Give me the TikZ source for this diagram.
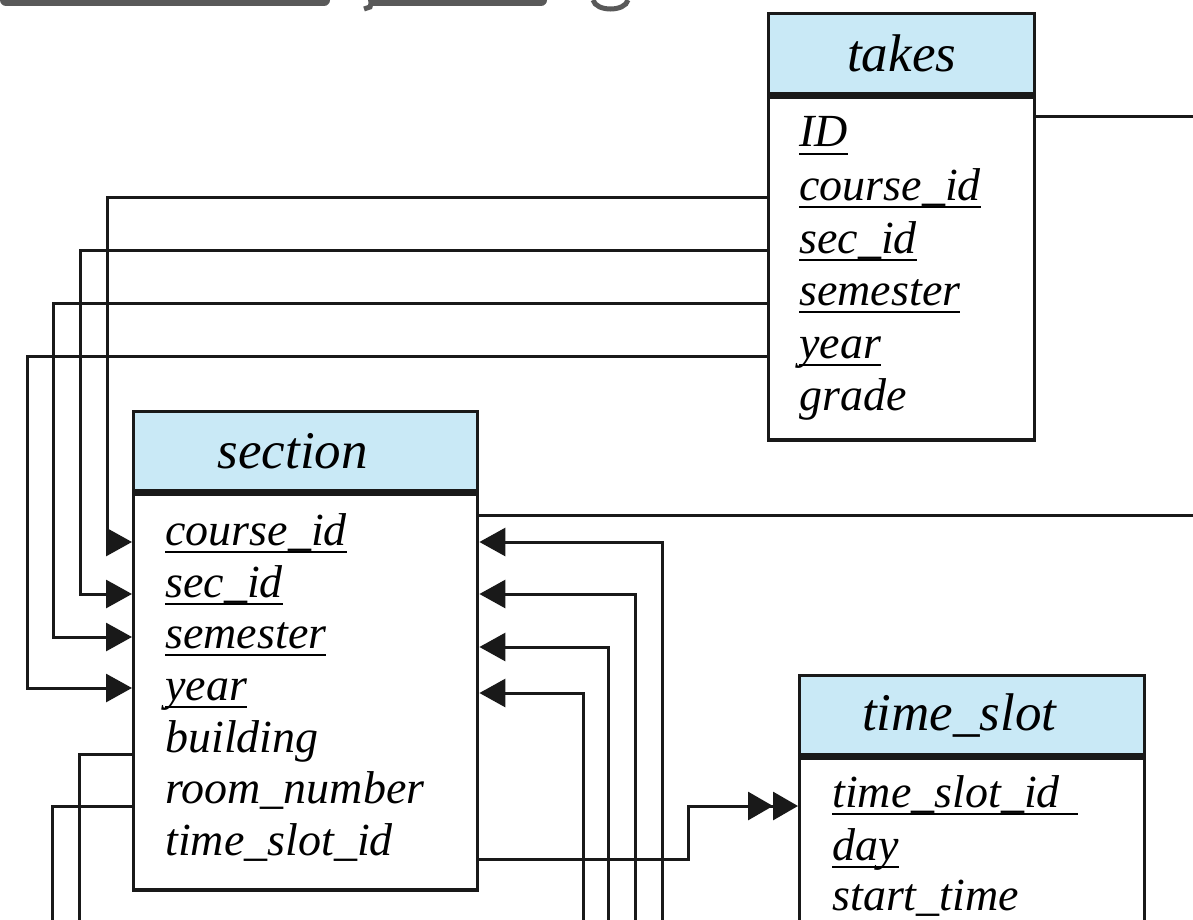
\documentclass[tikz,border=0pt]{standalone}
\usepackage{fontspec}
\setmainfont{Liberation Serif}
\usetikzlibrary{arrows.meta,calc}
\definecolor{headblue}{RGB}{201,233,246}
\definecolor{titlegray}{RGB}{89,89,89}
\newcommand\pk[1]{\setbox0\hbox{#1}\rlap{\rule[-4pt]{\wd0}{0.9pt}}\box0}
\tikzset{
  head/.style={draw=black!90,line width=1.7pt,fill=headblue,anchor=north west,inner sep=0pt,font=\fontsize{26.5}{30}\selectfont\itshape},
  tbl/.style={draw=black!90,line width=1.7pt,anchor=north west,inner sep=0pt},
  attr/.style={anchor=base west,inner sep=0pt,font=\fontsize{23}{26}\selectfont\itshape},
  link/.style={line width=1.5pt,black!90},
  fk/.style={link,-{Triangle[length=13pt,width=14pt]}},
  fkk/.style={link,-{Triangle[length=12.5pt,width=14pt,sep=0pt]Triangle[length=12.5pt,width=14pt,sep=0pt]}},
}
\begin{document}
\begin{tikzpicture}[x=0.5pt,y=-0.5pt]
\useasboundingbox (0,0) rectangle (1193,920);
\clip (0,0) rectangle (1193,920);
\fill[titlegray,rounded corners=3] (0,-6) rectangle (330,6);
\fill[titlegray,rounded corners=3] (368,-6) rectangle (547,6);
\draw[titlegray,line width=2.5pt] (372,0) -- (370,7) -- (364,9);
\draw[titlegray,line width=2.5pt] (593,0) .. controls (596,12) and (625,12) .. (628,0);

\node[head,minimum width=133pt,minimum height=40pt] (takes) at (767,12) {takes};
\node[tbl,minimum width=133pt,minimum height=171.5pt] (tbody) at (takes.south west) {};
\foreach \n/\t/\y in {tid/\pk{ID}/147,tcourse/\pk{course\_id}/200,tsec/\pk{sec\_id}/253,tsem/\pk{semester}/305,tyear/\pk{year}/358,tgrade/grade/410}
  \node[attr] (\n) at (799,\y) {\t};

\node[head,minimum width=172pt,minimum height=39.5pt] (section) at (132,410) {\hspace*{-13pt}section};
\node[tbl,minimum width=172pt,minimum height=198pt] (sbody) at (section.south west) {};
\foreach \n/\t/\y in {scourse/\pk{course\_id}/545,ssec/\pk{sec\_id}/597,ssem/\pk{semester}/648,syear/\pk{year}/700,sbuild/building/752,sroom/room\_number/803,stime/time\_slot\_id/855}
  \node[attr] (\n) at (165,\y) {\t};

\node[head,minimum width=172.5pt,minimum height=39.5pt] (timeslot) at (798,674) {\hspace*{-13pt}time\_slot};
\node[tbl,minimum width=172.5pt,minimum height=110pt] (tsbody) at (timeslot.south west) {};
\foreach \n/\t/\y in {tsid/\pk{time\_slot\_id\hspace{9pt}}/807,tsday/\pk{day}/860,tsstart/start\_time/910}
  \node[attr] (\n) at (832,\y) {\t};

\draw[fk] ($(tbody.west |- tcourse.base)+(0,-3)$) -- ++(-660,0) |- ($(sbody.west |- scourse.base)+(0,-3)$);
\draw[fk] ($(tbody.west |- tsec.base)+(0,-3)$) -- ++(-687,0) |- ($(sbody.west |- ssec.base)+(0,-3)$);
\draw[fk] ($(tbody.west |- tsem.base)+(0,-2)$) -- ++(-714,0) |- ($(sbody.west |- ssem.base)+(0,-11)$);
\draw[fk] ($(tbody.west |- tyear.base)+(0,-2)$) -- ++(-740,0) |- ($(sbody.west |- syear.base)+(0,-12)$);

\foreach \n/\x/\d in {scourse/662/-3,ssec/635/-3,ssem/608/-1,syear/583/-7}{
  \coordinate (in-\n) at (\x,930);
  \draw[fk] (in-\n) |- ($(sbody.east |- \n.base)+(0,\d)$);
}

\coordinate (out-sbuild) at (79,930);
\coordinate (out-sroom) at (52,930);
\draw[link] ($(sbody.west |- sbuild.base)+(0,2)$) -| (out-sbuild);
\draw[link] ($(sbody.west |- sroom.base)+(0,3)$) -| (out-sroom);

\coordinate (out-takes) at (1200,117);
\coordinate (out-section) at (1200,515);
\draw[link] (tbody.east |- out-takes) -- (out-takes);
\draw[link] (sbody.east |- out-section) -- (out-section);

\draw[fkk] ($(sbody.east |- stime.base)+(0,4)$) -| ($(tsbody.west |- tsid.base)+(-110,-1)$) -- ($(tsbody.west |- tsid.base)+(0,-1)$);
\end{tikzpicture}
\end{document}
